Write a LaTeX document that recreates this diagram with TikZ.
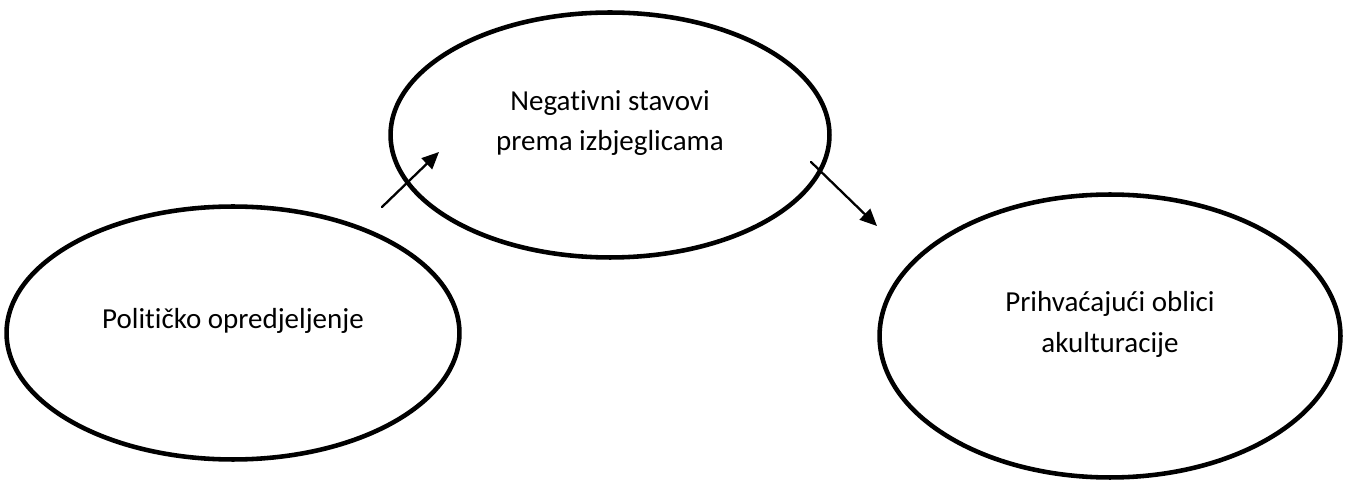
\documentclass[tikz,border=0pt]{standalone}
\usepackage{fontspec}
\setmainfont{Carlito}[Ligatures=NoCommon]
\usetikzlibrary{shapes.geometric,arrows.meta}
\begin{document}
\begin{tikzpicture}[x=0.02cm,y=-0.02cm,font=\fontsize{16.5}{23.3}\selectfont,line cap=round,
  oval/.style={ellipse,draw,line width=2.6pt,inner sep=0pt},
  txt/.style={align=center,yshift=6.8pt},
  >={Triangle[length=9.7pt,width=8.6pt]}]
\useasboundingbox (0,0) rectangle (1351,482);
\node[oval,minimum width=9.06cm,minimum height=5.06cm,label={[txt,name=Pt]center:Političko opredjeljenje}](P) at (233,333){};
\node[oval,minimum width=8.78cm,minimum height=4.9cm,label={[txt,name=Nt]center:{Negativni stavovi\\prema izbjeglicama}}](N) at (610,135){};
\node[oval,minimum width=9.22cm,minimum height=5.66cm,label={[txt,name=At]center:{Prihvaćajući oblici\\akulturacije}}](A) at (1110,336){};
\coordinate (a1) at (382,207);\coordinate (b1) at (439,152);
\coordinate (a2) at (811,162);\coordinate (b2) at (877,226);
\begin{scope}[->,line width=1.3pt]
\draw(a1)--(b1);
\draw(a2)--(b2);
\end{scope}
\end{tikzpicture}
\end{document}
